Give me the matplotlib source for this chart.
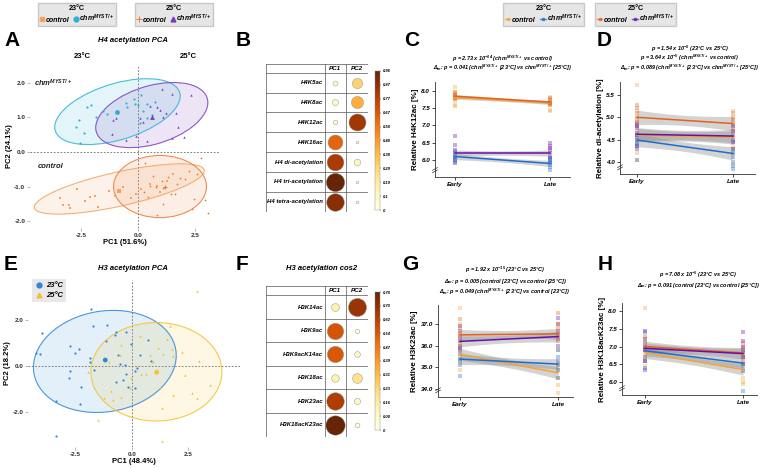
import numpy as np
import matplotlib
matplotlib.use("Agg")
import matplotlib.pyplot as plt
from matplotlib.patches import Ellipse
from matplotlib.lines import Line2D
from matplotlib.colors import Normalize
from matplotlib.colorbar import ColorbarBase

plt.rcParams["font.family"] = ["Liberation Sans", "DejaVu Sans"]
plt.rcParams["mathtext.default"] = "regular"

W, H = 763, 468
CHM = r"chm$^{MYST/+}$"

# ---------------- colours
pca_ctrl23 = "#F6A25E"
pca_chm23 = "#2CB2D0"
pca_ctrl25 = "#EC7A3A"
pca_chm25 = "#7A3CC0"
ln_ctrl23 = "#F5A433"
ln_chm23 = "#1E6CD0"
ln_ctrl25 = "#E8601C"
ln_chm25 = "#6A0DAD"
e_blue = "#2E86D6"
e_yellow = "#F2C230"

# ---------------- A: H4 PCA scores
a_chm23_x = [-2.21, -2.06, -2.60, -2.69, -2.35, -2.54, -1.84, -1.54, -1.35, -0.49, -0.54, -0.19,
             -0.15, 0.0, 0.15, 0.22, 0.37, 0.40, 0.76, 0.07, 0.59]
a_chm23_y = [1.29, 1.37, 0.93, 0.73, 0.56, 0.26, 1.00, 1.20, 1.10, 1.30, 1.43, 1.53,
             1.40, 1.37, 1.66, 1.20, 1.40, 0.98, 1.44, 0.83, 1.07]
a_chm25_x = [-1.10, -0.96, -1.13, -0.51, -0.07, 0.07, 0.22, 0.54, 0.81, 0.96, 1.03, 1.10,
             1.21, 1.47, 1.66, 1.76, 1.47, 1.99, 2.31, 0.37]
a_chm25_y = [0.93, 0.98, 0.52, 0.34, 0.46, 0.98, 0.88, 1.32, 1.30, 1.22, 1.82, 1.02,
             1.14, 1.68, 1.14, 0.73, 0.42, 0.44, 1.66, 0.32]
a_ctrl23_x = [-3.41, -3.26, -3.01, -2.97, -2.65, -2.31, -2.10, -1.87, -1.76, -1.25, -0.99,
              -0.66, -0.32, -0.07, 0.15, 0.51, 0.81, 1.25, 1.54, 0.96]
a_ctrl23_y = [-1.34, -1.53, -1.53, -1.61, -1.07, -1.41, -1.30, -1.27, -1.59, -1.12, -1.27,
              -1.00, -1.32, -1.22, -1.07, -0.93, -0.98, -0.83, -0.63, -1.17]
a_ctrl25_x = [0.29, 0.66, 0.54, 0.78, 1.03, 1.10, 1.32, 1.69, 1.84, 2.06, 2.21, 2.57, 2.75,
              2.46, 2.35, 2.94, 3.04, 1.10, 0.81, 0.26, 0.44, 1.43, 1.62]
a_ctrl25_y = [-0.32, -0.68, -0.98, -1.02, -0.85, -1.05, -0.73, -0.93, -0.75, -0.78, -0.54,
              -0.63, -0.18, -1.37, -1.66, -1.40, -1.76, -1.51, -1.82, -1.15, -1.30, -1.22, -1.22]
a_centroid_x = [-0.93, 0.59, -0.84, 1.18]
a_centroid_y = [1.15, 1.02, -1.14, -1.02]
# ellipses: centre x, centre y, semi-axis a, semi-axis b, angle
a_ellipses = [(-0.90, 1.17, 2.78, 0.83, 10.2),
              (0.60, 1.07, 2.48, 0.86, 9.6),
              (-0.82, -1.07, 3.75, 0.50, 8.2),
              (0.96, -1.00, 2.03, 0.90, 0.0)]

# ---------------- E: H3 PCA scores
e_23_x = [-3.97, -4.24, -4.09, -3.35, -3.38, -2.75, -2.74, -2.78, -2.51, -2.34, -2.26, -2.29,
          -1.82, -1.71, -1.86, -1.86, -1.67, -1.12, -1.15, -0.77, -0.70, -0.63, -0.55, -0.33,
          -0.25, -0.28, -0.40, -0.03, 0.12, 0.24, 0.34, 0.71, 0.86, 0.12, -0.18, -0.70]
e_23_y = [1.43, 0.57, 0.51, -3.03, -1.53, 0.87, -0.20, -0.50, 0.57, 0.73, -0.93, -1.64,
          2.47, 1.76, 0.36, 0.16, -0.17, 1.79, 1.07, 1.33, 1.50, 0.50, 0.11, 0.04,
          1.47, -0.36, -0.60, 0.97, -0.21, -0.07, 0.47, 1.11, 0.21, -0.96, -0.89, -0.71]
e_25_x = [2.87, 1.68, 2.20, 2.95, 3.47, 2.87, 2.65, 2.35, 1.83, 1.76, 1.53, 1.38, 1.16, 1.09,
          0.94, 0.79, 0.64, 0.42, 0.34, -0.03, -0.10, -0.48, -0.85, -0.92, -1.22, -1.49,
          -0.55, -0.48, -1.00, -1.96, 1.24, 1.31, 1.34, 1.80]
e_25_y = [3.26, 1.76, 0.61, 0.21, -0.84, -1.39, -1.17, -0.41, 0.44, 0.76, 1.19, 0.54, 0.79,
          -0.17, 0.19, 0.47, -0.36, -0.36, 1.29, -0.50, -0.96, -1.36, -1.46, -1.07, -1.39,
          -2.34, 0.47, 0.90, 0.19, -0.27, -0.96, -1.84, -3.24, -1.24]
e_centroid_x = [-1.18, 1.09]
e_centroid_y = [0.26, -0.27]
e_ellipses = [(-1.20, 0.20, 3.18, 2.19, 9.0),
              (1.08, -0.25, 2.90, 2.14, 0.0)]

# ---------------- B / F: cos2 tables
h4_rows = ["H4K5ac", "H4K8ac", "H4K12ac", "H4K16ac", "H4 di-acetylation",
           "H4 tri-acetylation", "H4 tetra-acetylation"]
h4_pc1 = [0.07, 0.10, 0.06, 0.63, 0.80, 0.96, 0.88]
h4_pc2 = [0.30, 0.42, 0.82, 0.01, 0.12, 0.005, 0.01]
h4_ticklabels = ["0", "0.1", "0.19", "0.29", "0.38", "0.48", "0.58", "0.67", "0.77", "0.87", "0.96"]
h3_rows = ["H3K14ac", "H3K9ac", "H3K9acK14ac", "H3K18ac", "H3K23ac", "H3K18acK23ac"]
h3_pc1 = [0.13, 0.56, 0.55, 0.12, 0.64, 0.78]
h3_pc2 = [0.68, 0.04, 0.07, 0.20, 0.08, 0.05]
h3_ticklabels = ["0", "0.08", "0.16", "0.23", "0.31", "0.39", "0.47", "0.54", "0.62", "0.70", "0.78"]

# ---------------- C/D/G/H: early vs late per group (ctrl23, chm23, ctrl25, chm25)
c_early = {"ctrl23": [8.10, 7.95, 7.85, 7.78, 7.70, 7.60, 7.55],
           "ctrl25": [7.95, 7.90, 7.88, 7.85, 7.80, 7.75],
           "chm25": [6.68, 6.42, 6.30, 6.20, 6.10, 6.00, 5.92],
           "chm23": [6.25, 6.15, 6.05, 6.00, 5.95, 6.10]}
c_late = {"ctrl23": [7.82, 7.75, 7.65, 7.58, 7.45, 7.40],
          "ctrl25": [7.80, 7.72, 7.68, 7.64, 7.60, 7.62],
          "chm25": [6.50, 6.40, 6.35, 6.30, 6.20, 6.10, 6.05, 5.95],
          "chm23": [6.00, 5.95, 5.90, 5.85, 5.80, 5.72, 6.05]}
c_fit = {"ctrl23": (7.80, 7.65), "ctrl25": (7.84, 7.67), "chm23": (6.10, 5.90), "chm25": (6.20, 6.20)}
c_ci = {"ctrl23": 0.05, "ctrl25": 0.05, "chm23": 0.09, "chm25": 0.09}

d_early = {"ctrl23": [5.72, 5.15, 4.85, 4.70, 4.55, 4.40, 4.20, 4.05],
           "ctrl25": [5.27, 5.20, 5.10, 5.00, 4.95, 4.90, 4.80],
           "chm25": [4.85, 4.75, 4.65, 4.60, 4.50, 4.35, 4.30],
           "chm23": [4.80, 4.60, 4.55, 4.45, 4.40, 4.35, 4.05]}
d_late = {"ctrl23": [5.15, 4.95, 4.70, 4.55, 4.35, 4.20, 3.95],
          "ctrl25": [5.10, 5.00, 4.95, 4.85, 4.78, 4.70],
          "chm25": [4.80, 4.70, 4.60, 4.50, 4.45, 4.30],
          "chm23": [4.45, 4.30, 4.20, 4.10, 4.00, 3.92, 3.85]}
d_fit = {"ctrl23": (4.60, 4.55), "ctrl25": (5.00, 4.86), "chm23": (4.49, 4.19), "chm25": (4.62, 4.58)}
d_ci = {"ctrl23": 0.15, "ctrl25": 0.16, "chm23": 0.15, "chm25": 0.15}

g_early = {"ctrl23": [37.75, 37.00, 35.90, 35.70, 35.50, 35.20, 34.90],
           "ctrl25": [37.25, 36.80, 36.60, 36.50, 36.30, 36.10],
           "chm25": [36.90, 36.70, 36.40, 36.20, 36.00, 35.80],
           "chm23": [35.90, 35.60, 35.40, 35.30, 35.10, 34.60]}
g_late = {"ctrl23": [35.80, 35.20, 34.90, 34.50, 34.20, 33.80, 35.00],
          "ctrl25": [37.50, 37.00, 36.80, 36.60, 36.40, 36.20],
          "chm25": [37.30, 37.00, 36.70, 36.50, 36.30, 36.00],
          "chm23": [35.80, 35.50, 35.30, 35.10, 34.90, 34.50]}
g_fit = {"ctrl23": (35.60, 34.75), "ctrl25": (36.50, 36.55), "chm23": (35.38, 35.15), "chm25": (36.20, 36.42)}
g_ci = {"ctrl23": 0.28, "ctrl25": 0.25, "chm23": 0.25, "chm25": 0.25}

h_early = {"ctrl23": [8.10, 7.20, 7.00, 6.80, 6.60, 6.45],
           "ctrl25": [7.30, 7.10, 7.00, 6.90, 6.70],
           "chm25": [7.45, 7.20, 7.00, 6.90, 6.60, 6.35],
           "chm23": [7.42, 7.10, 6.90, 6.70, 6.60, 6.40]}
h_late = {"ctrl23": [6.70, 6.50, 6.30, 6.10, 5.95, 6.00],
          "ctrl25": [7.10, 7.00, 6.90, 6.80, 6.70, 6.60],
          "chm25": [7.42, 7.15, 7.00, 6.85, 6.70, 6.50],
          "chm23": [6.90, 6.70, 6.50, 6.40, 6.30, 5.75]}
h_fit = {"ctrl23": (6.82, 6.35), "ctrl25": (7.00, 6.82), "chm23": (6.88, 6.53), "chm25": (6.95, 6.80)}
h_ci = {"ctrl23": 0.16, "ctrl25": 0.15, "chm23": 0.15, "chm25": 0.15}

ln_colors = {"ctrl23": ln_ctrl23, "chm23": ln_chm23, "ctrl25": ln_ctrl25, "chm25": ln_chm25}

fig = plt.figure(figsize=(W / 100, H / 100), dpi=100)


def rect(x0, y0, x1, y1):
    return [x0 / W, 1 - y1 / H, (x1 - x0) / W, (y1 - y0) / H]


def ftext(x, y, s, **kw):
    fig.text(x / W, 1 - y / H, s, **kw)


def style_ticks(ax, size, italic=False):
    for t in ax.get_xticklabels() + ax.get_yticklabels():
        t.set_fontweight("bold")
        t.set_fontsize(size)
        if italic:
            t.set_fontstyle("italic")


def pca_axes(r, xlim, ylim, xlabel, ylabel):
    ax = fig.add_axes(r)
    ax.set_xlim(*xlim)
    ax.set_ylim(*ylim)
    for s in ax.spines.values():
        s.set_visible(False)
    ax.axhline(0, color="#666666", lw=0.6, ls=(0, (2, 2)), zorder=1)
    ax.axvline(0, color="#666666", lw=0.6, ls=(0, (2, 2)), zorder=1)
    ax.set_xticks([-2.5, 0, 2.5])
    ax.set_xticklabels(["-2.5", "0.0", "2.5"])
    ax.tick_params(length=2, width=0.4, color="#888888", pad=1.5, labelcolor="#333333")
    ax.set_xlabel(xlabel, fontsize=5.5, fontweight="bold", labelpad=1)
    ax.set_ylabel(ylabel, fontsize=5.5, fontweight="bold", labelpad=1)
    return ax


# ---------------- panel A
axA = pca_axes(rect(30, 65, 220, 228), (-4.72, 3.58), (-2.2, 2.52), "PC1 (51.6%)", "PC2 (24.1%)")
axA.set_yticks([-2, -1, 0, 1, 2])
axA.set_yticklabels(["-2.0", "-1.0", "0.0", "1.0", "2.0"])
style_ticks(axA, 4.6)
a_cols = [pca_chm23, pca_chm25, pca_ctrl23, pca_ctrl25]
for (cx, cy, a, b, ang), col in zip(a_ellipses, a_cols):
    axA.add_patch(Ellipse((cx, cy), 2 * a, 2 * b, angle=ang, facecolor=col, alpha=0.13, edgecolor="none", zorder=2))
    axA.add_patch(Ellipse((cx, cy), 2 * a, 2 * b, angle=ang, facecolor="none", edgecolor=col, lw=0.8, alpha=0.85, zorder=3))
axA.scatter(a_chm23_x, a_chm23_y, s=2.5, marker="o", color=pca_chm23, zorder=4, lw=0)
axA.scatter(a_chm25_x, a_chm25_y, s=3, marker="^", color=pca_chm25, zorder=4, lw=0)
axA.scatter(a_ctrl23_x, a_ctrl23_y, s=2.5, marker="s", color=pca_ctrl23, zorder=4, lw=0)
axA.scatter(a_ctrl25_x, a_ctrl25_y, s=4, marker="+", color=pca_ctrl25, zorder=4, lw=0.5)
for x, y, col, m in zip(a_centroid_x, a_centroid_y, a_cols, ["o", "^", "s", "+"]):
    axA.scatter([x], [y], s=12, marker=m, color=col, zorder=5, lw=0.8 if m == "+" else 0)
axA.text(-4.56, 1.98, CHM, fontsize=5.5, fontweight="bold", fontstyle="italic", va="center", color="#222222")
axA.text(-4.37, -0.42, "control", fontsize=5.5, fontweight="bold", fontstyle="italic", va="center", color="#222222")
ftext(133, 41, "H4 acetylation PCA", fontsize=5.5, fontweight="bold", fontstyle="italic", ha="center", va="center")
ftext(82, 56, "23°C", fontsize=5.5, fontweight="bold", ha="center", va="center")
ftext(188, 56, "25°C", fontsize=5.5, fontweight="bold", ha="center", va="center")

# ---------------- panel E
axE = pca_axes(rect(28, 280, 240, 447), (-4.6, 4.78), (-3.52, 3.74), "PC1 (48.4%)", "PC2 (18.2%)")
axE.set_yticks([-2, 0, 2])
axE.set_yticklabels(["-2.0", "0.0", "2.0"])
style_ticks(axE, 4.6)
for (cx, cy, a, b, ang), col in zip(e_ellipses, [e_blue, e_yellow]):
    axE.add_patch(Ellipse((cx, cy), 2 * a, 2 * b, angle=ang, facecolor=col, alpha=0.13, edgecolor="none", zorder=2))
    axE.add_patch(Ellipse((cx, cy), 2 * a, 2 * b, angle=ang, facecolor="none", edgecolor=col, lw=0.8, alpha=0.85, zorder=3))
axE.scatter(e_23_x, e_23_y, s=2.5, marker="o", color=e_blue, zorder=4, lw=0)
axE.scatter(e_25_x, e_25_y, s=3, marker="^", color=e_yellow, zorder=4, lw=0)
axE.scatter(e_centroid_x, e_centroid_y, s=12, marker="o", color=[e_blue, e_yellow], zorder=5, lw=0)
axE.legend(handles=[Line2D([], [], marker="o", ls="", color=e_blue, ms=3.5),
                    Line2D([], [], marker="^", ls="", color=e_yellow, ms=3.5)],
           labels=["23°C", "25°C"], loc="upper left", bbox_to_anchor=(0.0, 1.03),
           prop={"weight": "bold", "style": "italic", "size": 5.5}, frameon=True,
           facecolor="#E8E8E8", edgecolor="none", fancybox=False, framealpha=1,
           handlelength=1.0, handletextpad=0.5, borderpad=0.4, labelspacing=0.35)
ftext(133, 269, "H3 acetylation PCA", fontsize=5.5, fontweight="bold", fontstyle="italic", ha="center", va="center")


# ---------------- cos2 tables
def cos2_table(r, cr, rows, pc1, pc2, ticklabels, head_h):
    ax = fig.add_axes(r)
    n = len(rows)
    vmax = float(ticklabels[-1])
    cols_x = [0, 2.8, 3.8, 4.85]
    ax.set_xlim(-0.02, 4.87)
    ax.set_ylim(-0.02, n + head_h + 0.02)
    ax.axis("off")
    for x in cols_x:
        ax.plot([x, x], [0, n + head_h], color="#555555", lw=0.5)
    for i in range(n + 1):
        ax.plot([0, 4.85], [i, i], color="#555555", lw=0.5)
    ax.plot([0, 4.85], [n + head_h] * 2, color="#555555", lw=0.5)
    ax.text(3.3, n + head_h / 2, "PC1", ha="center", va="center", fontsize=4.5, fontweight="bold", fontstyle="italic")
    ax.text(4.33, n + head_h / 2, "PC2", ha="center", va="center", fontsize=4.5, fontweight="bold", fontstyle="italic")
    cmap = plt.get_cmap("YlOrBr")
    cell_px = min(21, r[3] * H / (n + head_h))
    smax = (cell_px * 0.92 * 0.72) ** 2
    for i, (name, v1, v2) in enumerate(zip(rows, pc1, pc2)):
        yc = n - i - 0.5
        ax.text(2.72, yc, name, ha="right", va="center", fontsize=4.3, fontweight="bold", fontstyle="italic")
        for xc, v in ((3.3, v1), (4.33, v2)):
            ax.scatter([xc], [yc], s=max(smax * v / vmax, 4), color=cmap(v / vmax),
                       edgecolors="#8a8a8a", linewidths=0.3, zorder=3)
    cax = fig.add_axes(cr)
    cb = ColorbarBase(cax, cmap=cmap, norm=Normalize(0, vmax), orientation="vertical")
    cb.set_ticks(np.linspace(0, vmax, len(ticklabels)))
    cb.set_ticklabels(ticklabels)
    cb.outline.set_linewidth(0.3)
    cb.outline.set_edgecolor("#888888")
    cax.tick_params(labelsize=3, length=1, width=0.3, pad=1)
    for t in cax.get_yticklabels():
        t.set_fontstyle("italic")
        t.set_fontweight("bold")


cos2_table(rect(266, 64, 368, 212), rect(375, 71, 380, 210), h4_rows, h4_pc1, h4_pc2, h4_ticklabels, 0.42)
cos2_table(rect(266, 286, 368, 437), rect(375, 292, 380, 430), h3_rows, h3_pc1, h3_pc2, h3_ticklabels, 0.38)
ftext(322, 269, "H3 acetylation cos2", fontsize=5.5, fontweight="bold", fontstyle="italic", ha="center", va="center")


# ---------------- trend panels
def trend_panel(r, xlim, ylim, yticks, ylabel, early, late, fit, ci, draw_order):
    ax = fig.add_axes(r)
    ax.set_xlim(*xlim)
    ax.set_ylim(*ylim)
    for g in draw_order:
        ax.scatter(np.ones(len(early[g])), early[g], marker="s", s=9, color=ln_colors[g], alpha=0.35, lw=0, zorder=2)
        ax.scatter(np.full(len(late[g]), 2.0), late[g], marker="s", s=9, color=ln_colors[g], alpha=0.35, lw=0, zorder=2)
    xs = np.linspace(1, 2, 30)
    shape = np.sqrt(0.5 + 2 * (xs - 1.5) ** 2)
    for g in draw_order:
        e, l = fit[g]
        yl = e + (l - e) * (xs - 1)
        ax.fill_between(xs, yl - ci[g] * shape, yl + ci[g] * shape, color="#8c8c8c", alpha=0.38, lw=0, zorder=3)
    for g in draw_order:
        e, l = fit[g]
        ax.plot([1, 2], [e, l], color=ln_colors[g], lw=1.1, zorder=4)
    for s in ["top", "right"]:
        ax.spines[s].set_visible(False)
    for s in ["left", "bottom"]:
        ax.spines[s].set_linewidth(0.6)
        ax.spines[s].set_color("#333333")
    ax.set_xticks([1, 2])
    ax.set_xticklabels(["Early", "Late"])
    ax.set_yticks(yticks)
    ax.set_yticklabels(["%.1f" % v for v in yticks])
    ax.tick_params(length=2, width=0.5, pad=1.5)
    style_ticks(ax, 4.6, italic=True)
    ax.set_ylabel(ylabel, fontsize=5.8, fontweight="bold", labelpad=2)
    # axis break mark
    for dy in (0.0, 0.025):
        ax.plot([-0.018, 0.018], [0.045 + dy, 0.075 + dy], transform=ax.transAxes, color="#333333",
                lw=0.5, clip_on=False, zorder=5)
    return ax


trend_panel(rect(435, 82, 570, 177), (0.79, 2.21), (5.51, 8.25), [6.0, 6.5, 7.0, 7.5, 8.0],
            "Relative H4K12ac [%]", c_early, c_late, c_fit, c_ci, ["chm25", "chm23", "ctrl23", "ctrl25"])
trend_panel(rect(620, 82, 755, 174), (0.823, 2.229), (3.73, 5.79), [4.0, 4.5, 5.0, 5.5],
            "Relative di-acetylation [%]", d_early, d_late, d_fit, d_ci, ["ctrl23", "ctrl25", "chm23", "chm25"])
trend_panel(rect(438, 305, 573, 397), (0.776, 2.153), (33.63, 37.88), [34.0, 35.0, 36.0, 37.0],
            "Relative H3K23ac [%]", g_early, g_late, g_fit, g_ci, ["ctrl23", "chm23", "chm25", "ctrl25"])
trend_panel(rect(622, 303, 757, 395), (0.765, 2.143), (5.63, 8.23), [6.0, 6.5, 7.0, 7.5, 8.0],
            "Relative H3K18acK23ac [%]", h_early, h_late, h_fit, h_ci, ["ctrl23", "chm23", "ctrl25", "chm25"])

ptxt = dict(fontsize=4.0, fontweight="bold", fontstyle="italic", ha="center", va="center")
ftext(503, 59, r"p = 2.73 x 10$^{-64}$ (" + CHM + " vs control)", **ptxt)
ftext(503, 68, r"$\Delta_m$: p = 0.041 (" + CHM + " [23°C] vs " + CHM + " [25°C])", **ptxt)
ftext(690, 49, r"p = 1.54 x 10$^{-6}$ (23°C vs 25°C)", **ptxt)
ftext(690, 58, r"p = 3.64 x 10$^{-5}$ (" + CHM + " vs control)", **ptxt)
ftext(690, 68, r"$\Delta_m$: p = 0.089 (" + CHM + " [23°C] vs " + CHM + " [25°C])", **ptxt)
ftext(505, 270, r"p = 1.92 x 10$^{-15}$ (23°C vs 25°C)", **ptxt)
ftext(505, 281, r"$\Delta_m$: p = 0.005 (control [23°C] vs control [25°C])", **ptxt)
ftext(505, 292, r"$\Delta_m$: p = 0.049 (" + CHM + " [23°C] vs control [23°C])", **ptxt)
ftext(698, 275, r"p = 7.08 x 10$^{-5}$ (23°C vs 25°C)", **ptxt)
ftext(698, 285, r"$\Delta_m$: p = 0.091 (control [23°C] vs control [25°C])", **ptxt)

# ---------------- panel letters
for lab, x, y in [("A", 4, 41), ("B", 236, 41), ("C", 404, 41), ("D", 597, 41),
                  ("E", 4, 265), ("F", 236, 265), ("G", 402, 265), ("H", 598, 265)]:
    ftext(x, y, lab, fontsize=15, fontweight="bold", ha="left", va="center")

# ---------------- top legends
leg_kw = dict(ncol=2, loc="upper left", frameon=True, facecolor="#E6E6E6", edgecolor="#C8C8C8",
              fancybox=False, framealpha=1, prop={"weight": "bold", "style": "italic", "size": 5.0},
              title_fontproperties={"weight": "bold", "size": 5.2}, handletextpad=0.25,
              columnspacing=0.6, borderpad=0.25, labelspacing=0.15, borderaxespad=0)
fig.legend(handles=[Line2D([], [], marker="s", ls="", color=pca_ctrl23, ms=3.5),
                    Line2D([], [], marker="o", ls="", color=pca_chm23, ms=3.5)],
           labels=["control", CHM], title="23°C", bbox_to_anchor=(38 / W, 1 - 3 / H),
           handlelength=0.6, **leg_kw)
fig.legend(handles=[Line2D([], [], marker="+", ls="", color=pca_ctrl25, ms=5, mew=0.7),
                    Line2D([], [], marker="^", ls="", color=pca_chm25, ms=3.5)],
           labels=["control", CHM], title="25°C", bbox_to_anchor=(135 / W, 1 - 3 / H),
           handlelength=0.6, **leg_kw)
fig.legend(handles=[Line2D([], [], color=ln_ctrl23, lw=1, marker="s", ms=2, alpha=0.7),
                    Line2D([], [], color=ln_chm23, lw=1, marker="s", ms=2, alpha=0.7)],
           labels=["control", CHM], title="23°C", bbox_to_anchor=(503 / W, 1 - 3 / H),
           handlelength=0.8, **leg_kw)
fig.legend(handles=[Line2D([], [], color=ln_ctrl25, lw=1, marker="s", ms=2, alpha=0.7),
                    Line2D([], [], color=ln_chm25, lw=1, marker="s", ms=2, alpha=0.7)],
           labels=["control", CHM], title="25°C", bbox_to_anchor=(595 / W, 1 - 3 / H),
           handlelength=0.8, **leg_kw)

fig.savefig("out.png", dpi=100)
